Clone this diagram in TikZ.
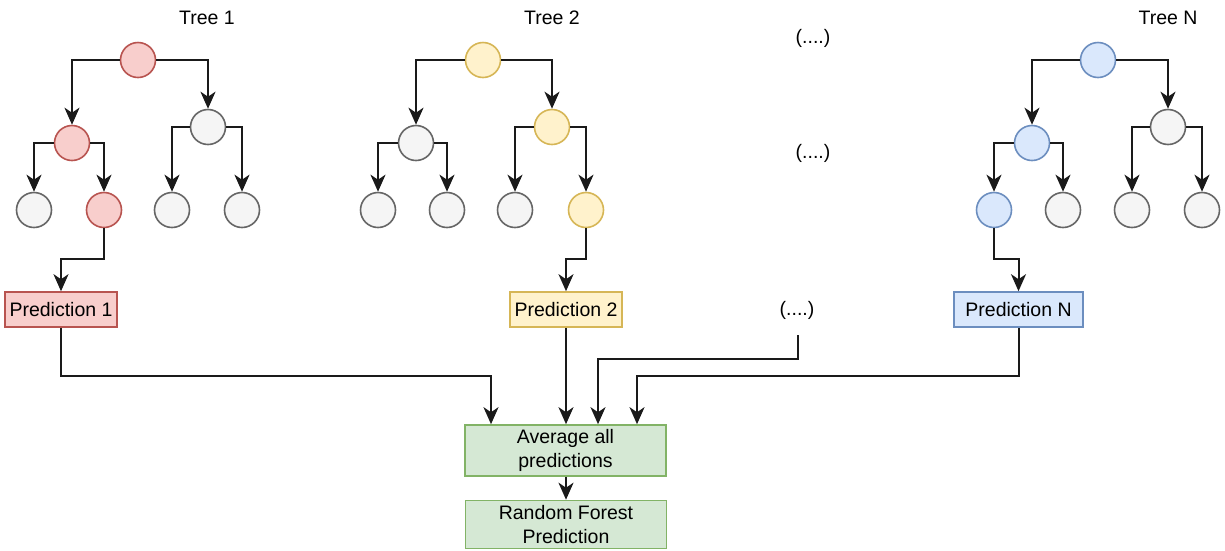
\documentclass[tikz,border=0pt]{standalone}
\usepackage{fontspec}
\setmainfont{Liberation Sans}
\usetikzlibrary{arrows.meta,calc}
\definecolor{redF}{HTML}{F8CECC}\definecolor{redD}{HTML}{B85450}
\definecolor{yelF}{HTML}{FFF2CC}\definecolor{yelD}{HTML}{D6B656}
\definecolor{bluF}{HTML}{DAE8FC}\definecolor{bluD}{HTML}{6C8EBF}
\definecolor{gryF}{HTML}{F5F5F5}\definecolor{gryD}{HTML}{666666}
\definecolor{grnF}{HTML}{D5E8D4}\definecolor{grnD}{HTML}{82B366}
\definecolor{lineC}{HTML}{1A1A1A}
\begin{document}
\begin{tikzpicture}[x=1pt,y=-1pt,
  every node/.style={font=\fontsize{19.5}{24}\selectfont},
  nd/.style={circle,minimum size=35pt,inner sep=0pt,line width=1.6pt},
  gnd/.style={nd,draw=gryD,fill=gryF},
  rnd/.style={nd,draw=redD,fill=redF},
  ynd/.style={nd,draw=yelD,fill=yelF},
  bnd/.style={nd,draw=bluD,fill=bluF},
  box/.style={rectangle,line width=1.6pt,inner sep=0pt,align=center},
  arr/.style={draw=lineC,line width=2pt,-{Stealth[length=17pt,width=15pt,inset=5pt]}},
  lbl/.style={inner sep=0pt}]
\useasboundingbox (0,0) rectangle (1225,550);
% titles
\node[lbl] (ti1) at (207,18) {Tree 1};
\node[lbl] (ti2) at (552,18) {Tree 2};
\node[lbl] (tiN) at (1168,18) {Tree N};
\node[lbl] (d1) at (813,38) {(....)};
\node[lbl] (d2) at (813,153) {(....)};
\node[lbl] (d3) at (797,310) {(....)};
% tree 1
\node[rnd] (t1r) at (138,60) {};
\node[rnd] (t1a) at (72,143) {};
\node[gnd] (t1b) at (208,127) {};
\node[gnd] (t1aa) at (34,210) {};
\node[rnd] (t1ab) at (104,210) {};
\node[gnd] (t1ba) at (172,210) {};
\node[gnd] (t1bb) at (242,210) {};
% tree 2
\node[ynd] (t2r) at (483,60) {};
\node[gnd] (t2a) at (416,143) {};
\node[ynd] (t2b) at (552,127) {};
\node[gnd] (t2aa) at (378,210) {};
\node[gnd] (t2ab) at (447,210) {};
\node[gnd] (t2ba) at (515,210) {};
\node[ynd] (t2bb) at (586,210) {};
% tree N
\node[bnd] (tNr) at (1098,60) {};
\node[bnd] (tNa) at (1032,143) {};
\node[gnd] (tNb) at (1168,127) {};
\node[bnd] (tNaa) at (994,210) {};
\node[gnd] (tNab) at (1063,210) {};
\node[gnd] (tNba) at (1132,210) {};
\node[gnd] (tNbb) at (1202,210) {};
% tree edges
\foreach \t in {t1,t2,tN}{
  \draw[arr] (\t r.west) -| (\t a);
  \draw[arr] (\t r.east) -| (\t b);
  \draw[arr] (\t a.west) -| (\t aa);
  \draw[arr] (\t a.east) -| (\t ab);
  \draw[arr] (\t b.west) -| (\t ba);
  \draw[arr] (\t b.east) -| (\t bb);
}
% predictions
\node[box,draw=redD,fill=redF,minimum width=112pt,minimum height=35pt] (p1) at (61,309.5) {Prediction 1};
\node[box,draw=yelD,fill=yelF,minimum width=112pt,minimum height=35pt] (p2) at (566,309.5) {Prediction 2};
\node[box,draw=bluD,fill=bluF,minimum width=129pt,minimum height=35pt] (pN) at (1018.5,309.5) {Prediction N};
\coordinate (yk) at (0,259);
\draw[arr] (t1ab.south) -- (t1ab.south |- yk) -| (p1.north);
\draw[arr] (t2bb.south) -- (t2bb.south |- yk) -| (p2.north);
\draw[arr] (tNaa.south) -- (tNaa.south |- yk) -| (pN.north);
% average and result
\node[box,draw=grnD,fill=grnF,minimum width=201pt,minimum height=51pt] (avg) at (565.5,450.5) {Average all\\predictions};
\node[box,draw=grnD,fill=grnF,minimum width=201pt,minimum height=48pt] (rf) at (566,524.5) {Random Forest\\Prediction};
\coordinate (c1) at (491,376);
\coordinate (c3) at (598,359);
\coordinate (c4) at (637,376);
\coordinate (d3s) at (798,335);
\draw[arr] (p1.south) |- (c1) -- (avg.north -| c1);
\draw[arr] (p2.south) -- (avg.north -| p2.south);
\draw[arr] (d3s) |- (c3) -- (avg.north -| c3);
\draw[arr] (pN.south) |- (c4) -- (avg.north -| c4);
\draw[arr] (avg.south -| rf.north) -- (rf.north);
\end{tikzpicture}
\end{document}
